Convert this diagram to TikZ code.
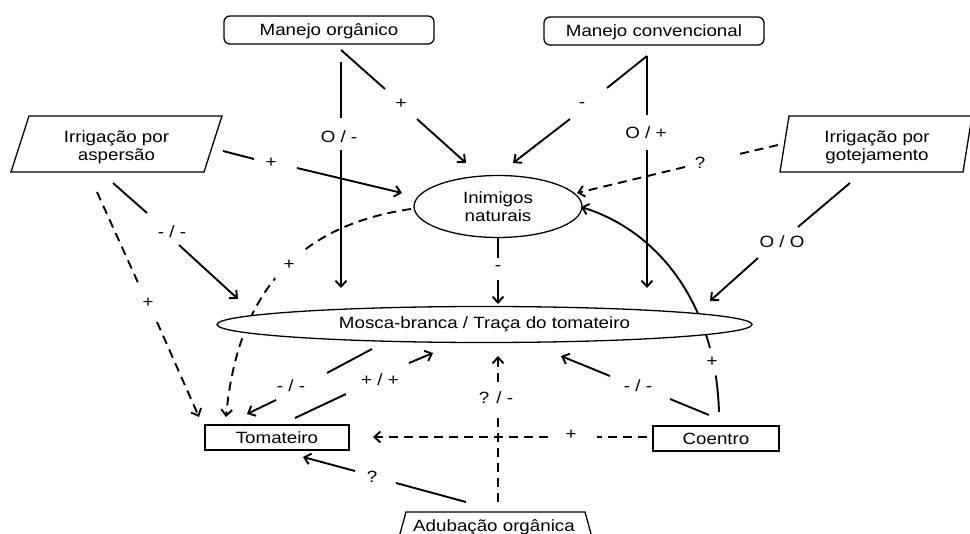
\documentclass[tikz,border=0pt]{standalone}
\usepackage{fontspec}
\setmainfont{Liberation Sans}[FakeStretch=1.15]
\usetikzlibrary{arrows.meta,shapes.geometric,backgrounds}
\begin{document}
\begin{tikzpicture}[x=1pt,y=-1pt,
  every node/.style={font=\fontsize{16.3}{18}\selectfont},
  conn/.style={line width=1.9pt},
  arr/.style={line width=1.9pt,-{Straight Barb[length=6pt,width=11pt]}},
  dsh/.style={dash pattern=on 9pt off 6pt},
  boxln/.style={line width=1.3pt},
  rbox/.style={draw,boxln,rounded corners=6pt,inner sep=0pt,text height=11.7pt,text depth=0pt},
  sbox/.style={draw,boxln,inner sep=0pt,text height=11.7pt,text depth=0pt},
  ell/.style={ellipse,draw,boxln,fill=white,inner sep=0pt,align=center},
  lbl/.style={inner sep=1pt},
  cut/.style={fill=white,circle,inner sep=0pt}
]
\useasboundingbox (0,0) rectangle (970,534);
\clip (0,0) rectangle (970,534);

% ---------- nodes ----------
\node[rbox,minimum width=210pt,minimum height=28pt] (mo) at (329,30) {Manejo orgânico};
\node[rbox,minimum width=220pt,minimum height=28pt] (mc) at (654,31) {Manejo convencional};
\node[align=center] (ia) at (116.5,147.5) {Irrigação por\\aspersão};
\draw[boxln] (29,116) -- (222,116) -- (204,172) -- (11,172) -- cycle;
\node[align=center] (ig) at (877,147.5) {Irrigação por\\gotejamento};
\draw[boxln] (789,116) -- (972,116) -- (963,172) -- (780,172) -- cycle;
\node[ell,minimum width=168pt,minimum height=62pt] (in) at (498,206.5) {Inimigos\\naturais};
\node[ell,minimum width=535pt,minimum height=36pt] (mb) at (484.5,324.5) {Mosca-branca / Traça do tomateiro};
\node[sbox,minimum width=144pt,minimum height=25pt] (tom) at (277,437.5) {Tomateiro};
\node[sbox,minimum width=126pt,minimum height=25pt] (coe) at (716,438.5) {Coentro};
\node[anchor=base] (adu) at (494,531.5) {Adubação orgânica};
\draw[boxln] (398,541) -- (406,512) -- (585,512) -- (593,541);

% ---------- labels ----------
\node[lbl] (l1) at (401,104) {+};
\node[lbl] (l2) at (339,137) {O / -};
\node[lbl] (l3) at (582,105) {-};
\node[lbl] (l4) at (646,133) {O / +};
\node[lbl] (l5) at (271,163) {+};
\node[lbl] (l6) at (172,232) {- / -};
\node[lbl] (l7) at (148,303) {+};
\node[cut,minimum size=38pt] (l8) at (289,265) {+};
\node[cut,minimum size=28pt] (l9) at (712,362) {+};
\node[lbl] (l10) at (700,163) {?};
\node[lbl] (l11) at (782,242) {O / O};
\node[lbl] (l12) at (291,386) {- / -};
\node[lbl] (l13) at (380,380) {+ / +};
\node[lbl] (l14) at (496,398) {? / -};
\node[lbl] (l15) at (372,477) {?};
\node[lbl] (l16) at (571,435) {+};
\node[lbl] (l17) at (638,386) {- / -};
\node[lbl] (l18) at (498,268) {-};

% ---------- connector end points ----------
\coordinate (c1a) at (341,50);   \coordinate (c1b) at (385,89);
\coordinate (c1c) at (417,119);  \coordinate (c1d) at (466,163);
\coordinate (c2a) at (341,62);   \coordinate (c2b) at (341,118);
\coordinate (c2c) at (341,150);  \coordinate (c2d) at (341,288);
\coordinate (c3a) at (647,56);   \coordinate (c3b) at (607,88);
\coordinate (c3c) at (570,119);  \coordinate (c3d) at (513,163);
\coordinate (c4a) at (647,56);   \coordinate (c4b) at (647,115);
\coordinate (c4c) at (647,150);  \coordinate (c4d) at (647,288);
\coordinate (c5a) at (223,151);  \coordinate (c5b) at (254,159);
\coordinate (c5c) at (297,168);  \coordinate (c5d) at (402,193);
\coordinate (c6a) at (113,183);  \coordinate (c6b) at (147,213);
\coordinate (c6c) at (179,245);  \coordinate (c6d) at (238,299);
\coordinate (c7a) at (97,192);   \coordinate (c7b) at (140,287);
\coordinate (c7c) at (157,322);  \coordinate (c7d) at (199,417);
\coordinate (c8a) at (411,209);  \coordinate (c8d) at (226,417);
\coordinate (c9a) at (719,412);  \coordinate (c9d) at (581,207);
\coordinate (c10a) at (778,145); \coordinate (c10b) at (735,155);
\coordinate (c10c) at (685,167); \coordinate (c10d) at (577,193);
\coordinate (c11a) at (850,183); \coordinate (c11b) at (798,227);
\coordinate (c11c) at (758,258); \coordinate (c11d) at (710,301);
\coordinate (c12a) at (372,349); \coordinate (c12b) at (327,373);
\coordinate (c12c) at (276,400); \coordinate (c12d) at (247,414);
\coordinate (c13a) at (295,418); \coordinate (c13b) at (346,394);
\coordinate (c13c) at (409,363); \coordinate (c13d) at (433,353);
\coordinate (c14a) at (498,502); \coordinate (c14b) at (498,413);
\coordinate (c14c) at (498,382); \coordinate (c14d) at (498,356);
\coordinate (c15a) at (466,502); \coordinate (c15b) at (396,483);
\coordinate (c15c) at (355,471); \coordinate (c15d) at (303,457);
\coordinate (c16a) at (647,437); \coordinate (c16b) at (597,437);
\coordinate (c16c) at (548,437); \coordinate (c16d) at (373,437);
\coordinate (c17a) at (709,415); \coordinate (c17b) at (670,399);
\coordinate (c17c) at (610,376); \coordinate (c17d) at (561,356);
\coordinate (c18a) at (498,238); \coordinate (c18b) at (498,258);
\coordinate (c18c) at (498,280); \coordinate (c18d) at (498,304);

% ---------- connectors ----------
\begin{scope}[on background layer]
\fill[white] (0,0) rectangle (970,534);
\draw[conn] (c1a) -- (c1b);  \draw[arr] (c1c) -- (c1d);
\draw[conn] (c2a) -- (c2b);  \draw[arr] (c2c) -- (c2d);
\draw[conn] (c3a) -- (c3b);  \draw[arr] (c3c) -- (c3d);
\draw[conn] (c4a) -- (c4b);  \draw[arr] (c4c) -- (c4d);
\draw[conn] (c5a) -- (c5b);  \draw[arr] (c5c) -- (c5d);
\draw[conn] (c6a) -- (c6b);  \draw[arr] (c6c) -- (c6d);
\draw[conn,dsh] (c7a) -- (c7b);  \draw[arr,dsh] (c7c) -- (c7d);
\draw[arr,dsh] (c8a) .. controls (300,225) and (238,290) .. (c8d);
\draw[arr] (c9a) .. controls (715.7,302) and (656.6,230.2) .. (c9d);
\draw[conn,dash pattern=on 9pt off 6pt] (c10a) -- (c10b);  \draw[arr,dsh] (c10c) -- (c10d);
\draw[conn] (c11a) -- (c11b);  \draw[arr] (c11c) -- (c11d);
\draw[conn] (c12a) -- (c12b);  \draw[arr] (c12c) -- (c12d);
\draw[conn] (c13a) -- (c13b);  \draw[arr] (c13c) -- (c13d);
\draw[conn,dsh] (c14a) -- (c14b);  \draw[arr,dsh] (c14c) -- (c14d);
\draw[conn] (c15a) -- (c15b);  \draw[arr] (c15c) -- (c15d);
\draw[conn,dsh] (c16a) -- (c16b);  \draw[arr,dsh] (c16c) -- (c16d);
\draw[conn] (c17a) -- (c17b);  \draw[arr] (c17c) -- (c17d);
\draw[conn] (c18a) -- (c18b);  \draw[arr] (c18c) -- (c18d);
\end{scope}
\end{tikzpicture}
\end{document}
